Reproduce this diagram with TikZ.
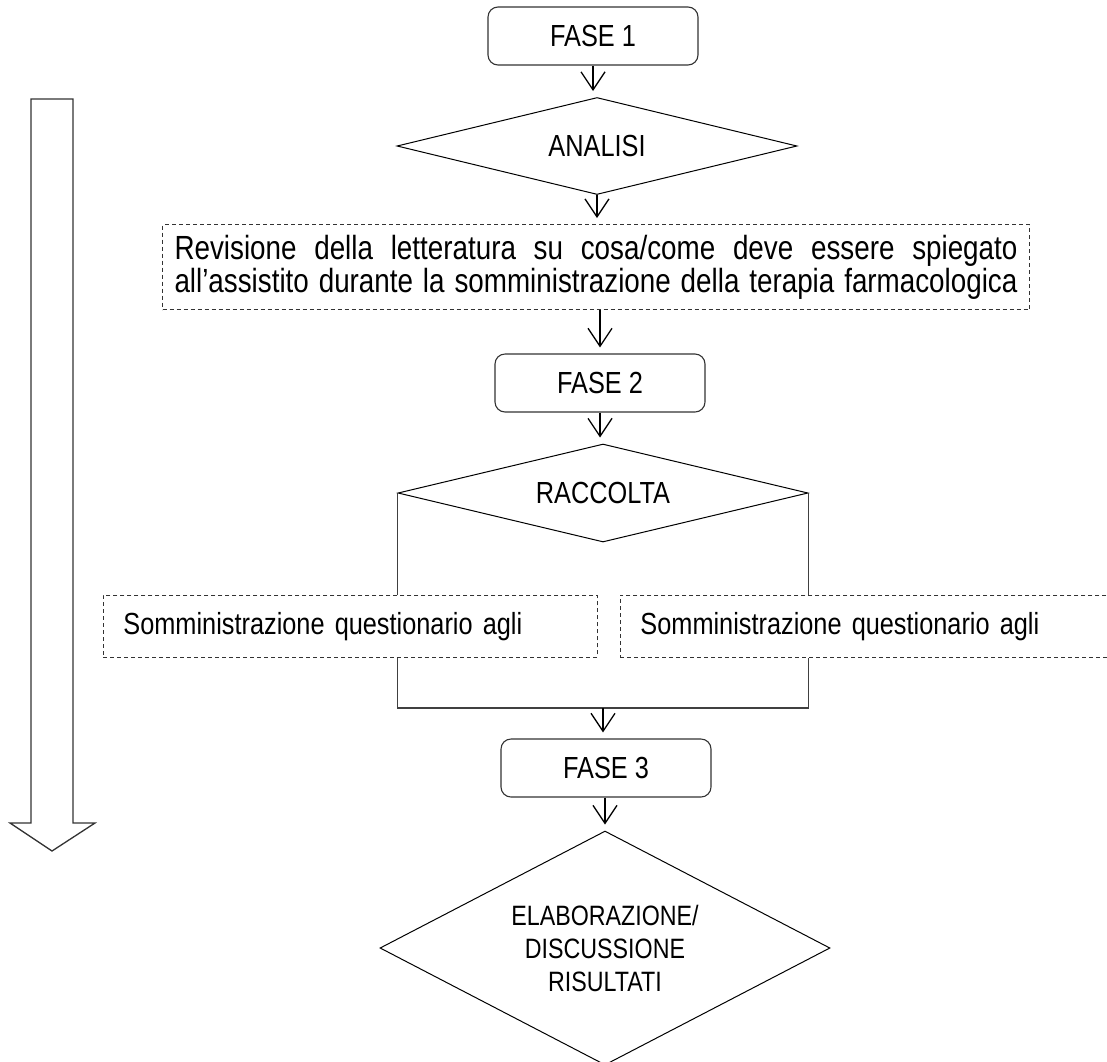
\documentclass[tikz,border=0pt]{standalone}
\usepackage{fontspec}
\setmainfont{Liberation Sans}[FakeStretch=0.83]
\usetikzlibrary{shapes.geometric,arrows.meta}
\begin{document}
\begin{tikzpicture}[x=1pt, y=-1pt, line width=1.1pt,
  every node/.style={font=\fontsize{30.5}{33}\selectfont},
  fase/.style={draw=black!80, rounded corners=10pt, minimum width=210pt, minimum height=58pt},
  cond/.style={draw, diamond, aspect=4, inner sep=0pt, line width=1pt},
  dashbox/.style={draw=black!80, dashed, dash pattern=on 4pt off 3pt, line width=0.9pt},
  arr/.style={-{Straight Barb[length=18pt, width=24pt]}, line width=1.3pt, shorten >=6pt}]
\useasboundingbox (0,0) rectangle (1107,1061);
\clip (0,0) rectangle (1107,1061);
% big arrow on the left
\draw[black!80, line width=1.3pt] (31,99) -- (73,99) -- (73,823) -- (95,823) -- (52,851) -- (10,823) -- (31,823) -- cycle;
\node[fase] (f1) at (593,36) {FASE 1};
\node[cond, minimum width=400pt, minimum height=97pt] (an) at (597,146) {ANALISI};
\node[dashbox, minimum width=867pt, minimum height=85pt, text width=843pt, align=justify, font=\fontsize{33.5}{33}\selectfont] (rev) at (596,267)
  {Revisione della letteratura su cosa/come deve essere spiegato\linebreak all'assistito durante la somministrazione della terapia farmacologica\parfillskip=0pt\par};
\node[fase] (f2) at (600,383) {FASE 2};
\node[cond, minimum width=410pt, minimum height=98pt] (rc) at (603,493) {RACCOLTA};
\node[dashbox, anchor=north west, text width=454pt, inner xsep=20pt, minimum height=62pt, align=left] (sl) at (103,595)
  {Somministrazione questionario agli};
\node[dashbox, anchor=north west, text width=480pt, inner xsep=20pt, minimum height=62pt, align=left] (sr) at (620,595)
  {Somministrazione questionario agli};
\coordinate (join) at (603,708);
\node[fase] (f3) at (606,768) {FASE 3};
\node[cond, aspect=2, minimum width=450pt, minimum height=234pt, align=center, font=\fontsize{28}{33}\selectfont] (el) at (605,948)
  {ELABORAZIONE/\\DISCUSSIONE\\RISULTATI};
% connectors
\draw[arr] (f1.south) -- (f1.south |- an.north);
\draw[arr] (an.south) -- (an.south |- rev.north);
\draw[arr] (rev.south -| f2.north) -- (f2.north);
\draw[arr] (f2.south) -- (f2.south |- rc.north);
\draw[black!75] (rc.west) -- (rc.west |- sl.north);
\draw[black!75] (rc.east) -- (rc.east |- sr.north);
\draw[black!75] (rc.west |- sl.south) |- (join) -| (rc.east |- sr.south);
\draw[arr] (join) -- (join |- f3.north);
\draw[arr] (f3.south -| el.north) -- (el.north);
\end{tikzpicture}
\end{document}
